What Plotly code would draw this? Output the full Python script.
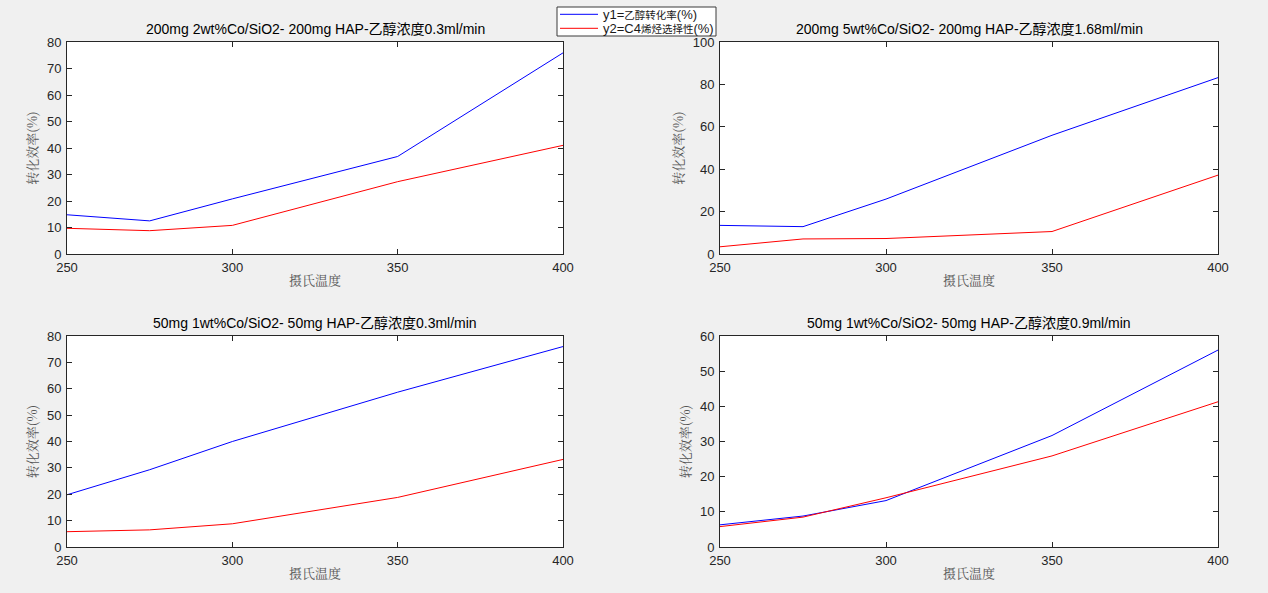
import plotly.graph_objects as go
from plotly.subplots import make_subplots

temps = [250, 275, 300, 350, 400]

titles = [
    "200mg 2wt%Co/SiO2- 200mg HAP-乙醇浓度0.3ml/min",
    "200mg 5wt%Co/SiO2- 200mg HAP-乙醇浓度1.68ml/min",
    "50mg 1wt%Co/SiO2- 50mg HAP-乙醇浓度0.3ml/min",
    "50mg 1wt%Co/SiO2- 50mg HAP-乙醇浓度0.9ml/min",
]

y1_p1 = [14.8, 12.5, 20.8, 36.8, 75.9]
y2_p1 = [9.7, 8.8, 10.8, 27.3, 41.0]
y1_p2 = [13.5, 12.9, 25.9, 56.0, 83.2]
y2_p2 = [3.4, 7.1, 7.3, 10.6, 37.2]
y1_p3 = [19.8, 29.3, 40.0, 58.7, 76.0]
y2_p3 = [5.8, 6.5, 8.8, 18.8, 33.2]
y1_p4 = [6.3, 8.8, 13.2, 31.7, 56.0]
y2_p4 = [5.8, 8.5, 14.0, 25.9, 41.3]

y_ranges = [[0, 80], [0, 100], [0, 80], [0, 60]]
y_dticks = [10, 20, 10, 10]
x_ticks = [250, 300, 350, 400]

name1 = "y1=乙醇转化率(%)"
name2 = "y2=C4烯烃选择性(%)"
legend_html = [
    "y1=<span style='font-size:10.5px'>乙醇转化率</span>(%)",
    "y2=C4<span style='font-size:10.5px'>烯烃选择性</span>(%)",
]
color1 = "#0000ff"
color2 = "#ff0000"
x_label = "摄氏温度"
y_label = "转化效率(%)"

W, H = 1268, 593
FONT = "Liberation Sans, Arial, Noto Sans CJK SC, sans-serif"
CJK = "Noto Serif CJK SC, Noto Sans CJK SC, serif"

fig = make_subplots(rows=2, cols=2)

series = [(y1_p1, y2_p1), (y1_p2, y2_p2), (y1_p3, y2_p3), (y1_p4, y2_p4)]
# pixel boxes (left, right, top, bottom)
boxes = [(67, 563, 42, 254), (720, 1218, 42, 254), (67, 563, 336, 547), (720, 1218, 336, 547)]

for i, (ya, yb) in enumerate(series):
    r, c = i // 2 + 1, i % 2 + 1
    fig.add_trace(go.Scatter(x=temps, y=ya, mode="lines", name=name1,
                             line=dict(color=color1, width=1), showlegend=False), row=r, col=c)
    fig.add_trace(go.Scatter(x=temps, y=yb, mode="lines", name=name2,
                             line=dict(color=color2, width=1), showlegend=False), row=r, col=c)

for i in range(4):
    l, rr, t, b = boxes[i]
    suffix = "" if i == 0 else str(i + 1)
    fig.layout["xaxis" + suffix].update(
        domain=[l / W, rr / W], range=[250, 400], tickvals=x_ticks, automargin=False,
        showgrid=False, zeroline=False, showline=True, mirror="ticks",
        linecolor="#262626", linewidth=1, ticks="inside", ticklen=5, tickcolor="#262626",
        ticklabelstandoff=1,
        tickfont=dict(size=13, color="#262626", family=FONT),
        title=dict(text=x_label, font=dict(size=13, color="#555555", family=CJK), standoff=2),
    )
    fig.layout["yaxis" + suffix].update(
        domain=[1 - b / H, 1 - t / H], range=y_ranges[i], dtick=y_dticks[i], tick0=0,
        automargin=False,
        showgrid=False, zeroline=False, showline=True, mirror="ticks",
        linecolor="#262626", linewidth=1, ticks="inside", ticklen=5, tickcolor="#262626",
        ticklabelstandoff=2,
        tickfont=dict(size=13, color="#262626", family=FONT),
        title=dict(text=y_label, font=dict(size=13, color="#555555", family=CJK), standoff=6),
    )
    fig.add_annotation(x=(l + rr) / 2 / W, y=1 - (t - 3) / H, xref="paper", yref="paper",
                       text=titles[i], showarrow=False, xanchor="center", yanchor="bottom",
                       font=dict(size=14, color="#000000", family=FONT))

# legend box (MATLAB-style, compact)
lg_l, lg_r, lg_t, lg_b = 557, 716, 7, 36
fig.add_shape(type="rect", xref="paper", yref="paper",
              x0=lg_l / W, x1=lg_r / W, y0=1 - lg_b / H, y1=1 - lg_t / H,
              fillcolor="#ffffff", line=dict(color="#3a3a3a", width=1))
for k, (txt, col) in enumerate(zip(legend_html, [color1, color2])):
    yy = 1 - (14.3 + 14 * k) / H
    fig.add_shape(type="line", xref="paper", yref="paper",
                  x0=560 / W, x1=598 / W, y0=yy, y1=yy, line=dict(color=col, width=1))
    fig.add_annotation(x=601 / W, y=yy, xref="paper", yref="paper", text=txt,
                       showarrow=False, xanchor="left", yanchor="middle",
                       font=dict(size=13, color="#1a1a1a", family=FONT))

fig.update_layout(
    width=W, height=H,
    margin=dict(l=0, r=0, t=0, b=0, autoexpand=False),
    paper_bgcolor="#f0f0f0", plot_bgcolor="#ffffff",
    showlegend=False,
)

fig.write_html("out.html")
